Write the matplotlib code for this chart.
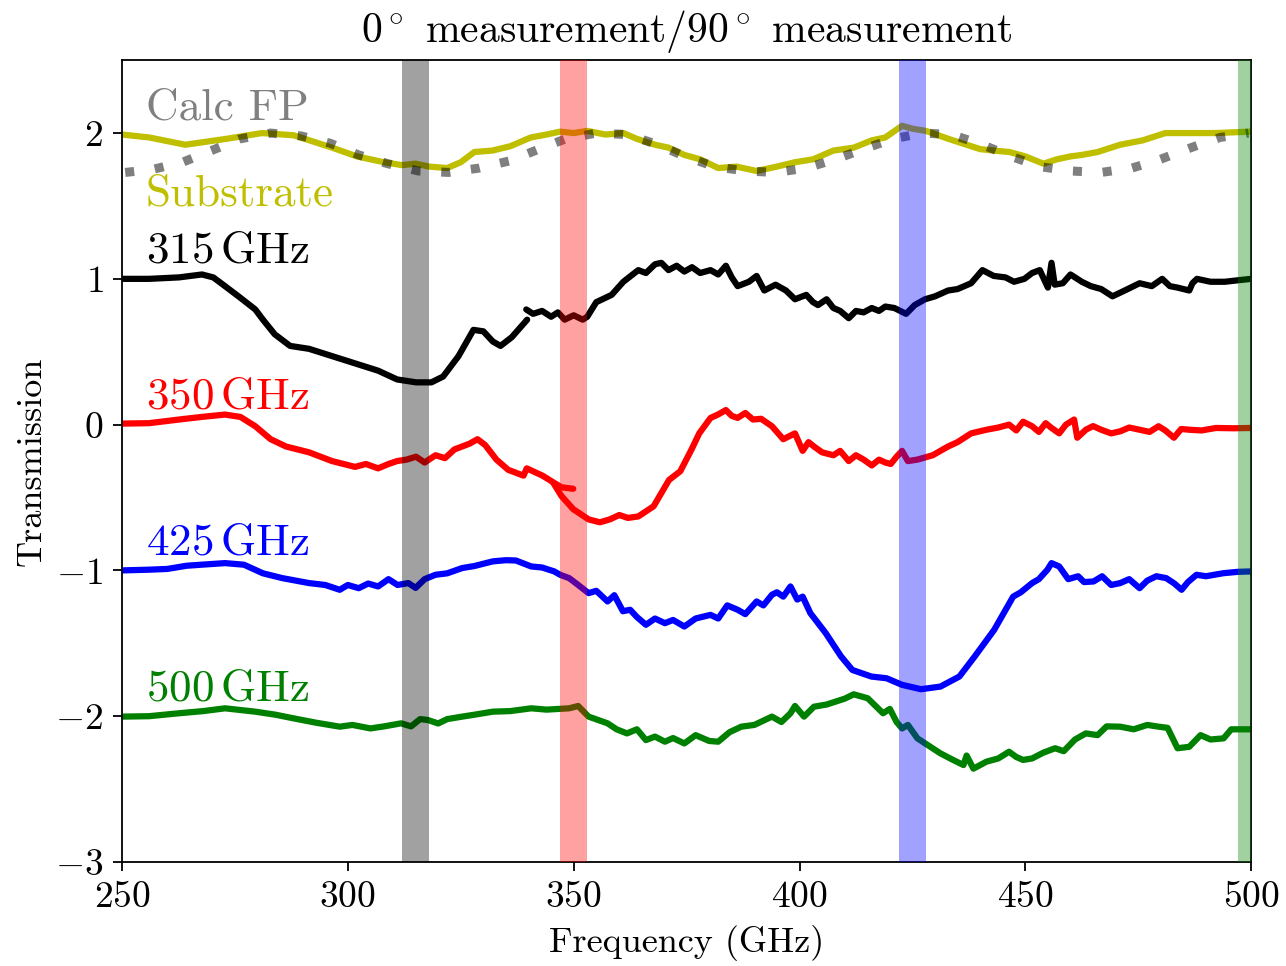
import matplotlib
matplotlib.use('Agg')
import matplotlib.pyplot as plt

plt.rcParams['font.family'] = 'serif'
plt.rcParams['font.serif'] = ['cmr10', 'DejaVu Serif']
plt.rcParams['mathtext.fontset'] = 'cm'
plt.rcParams['axes.formatter.use_mathtext'] = True
plt.rcParams['axes.unicode_minus'] = True

# substrate (yellow), offset +2
sub_f = [250, 256, 264, 273, 281, 288, 296.5, 302, 308, 312, 315, 318, 322, 325, 328, 332, 336, 340.5,
         344, 347, 350, 353, 357, 361, 364, 368, 371, 374.5, 378, 382, 386, 390.5, 395, 399, 403, 407.5,
         412, 416, 419, 422.7, 425, 428, 433, 436, 440, 443, 446.5, 450, 454, 457, 460, 462.5, 466, 471,
         476, 481, 486, 492, 500]
sub_t = [1.99, 1.97, 1.92, 1.96, 2.00, 1.985, 1.90, 1.84, 1.80, 1.78, 1.79, 1.77, 1.76, 1.80, 1.87, 1.88,
         1.91, 1.97, 1.99, 2.01, 2.0, 2.015, 1.99, 2.0, 1.96, 1.92, 1.90, 1.85, 1.82, 1.76, 1.77, 1.74, 1.77,
         1.80, 1.82, 1.88, 1.90, 1.95, 1.97, 2.05, 2.03, 2.015, 1.96, 1.93, 1.89, 1.88, 1.87, 1.84, 1.79,
         1.82, 1.84, 1.85, 1.87, 1.92, 1.95, 2.0, 2.0, 2.0, 2.01]

# calculated Fabry-Perot
fp_f = [250.7, 256.7, 263.4, 269.8, 276.1, 282.9, 289.7, 296.1, 302.4, 308.8, 315.6, 322.3, 329.1, 335.9,
        342.3, 348.2, 355, 361.8, 368.7, 374.6, 381.2, 388, 394.8, 401.5, 407.9, 414.2, 420.6, 427.4, 433.7,
        440.5, 446.9, 453.2, 460, 466.8, 473.6, 479.9, 486.7, 493.1, 499.4]
fp_t = [1.73, 1.75, 1.80, 1.88, 1.96, 2.0, 1.98, 1.93, 1.85, 1.79, 1.74, 1.73, 1.76, 1.81, 1.89, 1.96, 2.0,
        1.99, 1.92, 1.84, 1.77, 1.74, 1.73, 1.76, 1.82, 1.89, 1.96, 2.0, 1.99, 1.92, 1.84, 1.77, 1.74, 1.73,
        1.76, 1.82, 1.90, 1.97, 2.0]

# 315 GHz (black), offset +1, two scans
g315a_f = [250, 256, 262.6, 267.7, 270.2, 272.8, 276.2, 279.5, 281.2, 283.8, 287.2, 291.4, 296.5, 301.6,
           306.7, 310.9, 315.1, 318.5, 321.1, 324.5, 327.8, 330, 332.1, 333.8, 336.3, 339.7]
g315a_t = [1.00, 1.00, 1.01, 1.03, 1.01, 0.95, 0.87, 0.79, 0.72, 0.62, 0.54, 0.52, 0.47, 0.42, 0.37, 0.31,
           0.29, 0.29, 0.33, 0.47, 0.65, 0.64, 0.57, 0.54, 0.60, 0.72]
g315b_f = [339.5, 341, 343, 345, 346.5, 348, 350, 352, 353, 355, 358.4, 361, 364.3, 366, 368, 369.4, 371,
           372.8, 374.5, 376.2, 378, 380.3, 382, 383.7, 385, 386.3, 388.8, 390.5, 392.2, 394.7, 397, 399,
           401.5, 403, 404.1, 406, 407.5, 409, 410.9, 412.5, 414.2, 416, 417.6, 419, 421, 423.6, 425.5, 427.8,
           430, 432.9, 435, 438, 440.5, 443, 445.6, 447.5, 449.8, 451.5, 453.2, 455, 455.8, 456.5, 458.3, 460,
           462.5, 464.5, 466.8, 469.3, 472, 475.3, 478, 480.3, 482, 483.7, 486.3, 487, 488, 491, 494.2, 497,
           500]
g315b_t = [0.79, 0.76, 0.78, 0.74, 0.77, 0.72, 0.75, 0.72, 0.74, 0.84, 0.89, 0.98, 1.06, 1.04, 1.10, 1.11,
           1.06, 1.09, 1.05, 1.08, 1.04, 1.06, 1.03, 1.09, 1.01, 0.95, 0.98, 1.02, 0.92, 0.96, 0.92, 0.86, 0.89,
           0.84, 0.82, 0.86, 0.80, 0.78, 0.73, 0.78, 0.77, 0.80, 0.78, 0.81, 0.80, 0.76, 0.82, 0.86, 0.88, 0.92,
           0.93, 0.97, 1.06, 1.02, 1.01, 0.98, 1.0, 1.04, 1.06, 0.94, 1.11, 0.96, 0.97, 1.03, 0.98, 0.95, 0.93,
           0.88, 0.92, 0.97, 0.95, 1.0, 0.95, 0.94, 0.92, 0.97, 1.0, 0.98, 0.98, 0.99, 1.0]

# 350 GHz (red), offset 0, two scans
g350a_f = [250, 256, 262.6, 267.7, 272.8, 276.2, 279.5, 282.9, 286.3, 291.4, 296.5, 301.6, 304, 306.7, 309,
           310.9, 313, 315.1, 317, 319.4, 321.5, 323.6, 327, 328.7, 330.4, 332.9, 335.5, 338.9, 339.6, 341,
           343.1, 345.7, 347.3, 349.9]
g350a_t = [0.007, 0.01, 0.035, 0.053, 0.069, 0.053, -0.011, -0.10, -0.15, -0.19, -0.25, -0.29, -0.27, -0.30,
           -0.27, -0.25, -0.24, -0.22, -0.26, -0.21, -0.23, -0.17, -0.13, -0.10, -0.14, -0.24, -0.31, -0.35,
           -0.30, -0.32, -0.35, -0.40, -0.43, -0.44]
g350b_f = [345.5, 347.3, 349.9, 353.3, 355.8, 358, 360.1, 362, 364.3, 367.7, 371.1, 373.6, 376.1, 377.8,
           380.3, 382, 383.7, 385, 386.3, 388, 389.7, 391.5, 393.9, 395, 396.4, 399, 400.7, 402, 403.2, 405,
           407.5, 409, 410.9, 412.5, 414.2, 416, 417.6, 419, 420.2, 421.5, 422.7, 424, 426.1, 429.5, 432.9, 435,
           438, 441.4, 444, 446.4, 448, 449.5, 451.5, 453, 454.5, 455.8, 457.5, 459, 460.8, 461.5, 463.4, 465,
           466.8, 469, 471, 473, 475.3, 477.5, 479.5, 481, 482.9, 484.5, 486.3, 489, 492.2, 496, 500]
g350b_t = [-0.40, -0.49, -0.58, -0.65, -0.67, -0.65, -0.62, -0.64, -0.63, -0.56, -0.38, -0.32, -0.17, -0.06,
           0.046, 0.07, 0.10, 0.06, 0.046, 0.08, 0.035, 0.04, -0.011, -0.05, -0.10, -0.06, -0.18, -0.12, -0.15,
           -0.19, -0.21, -0.18, -0.25, -0.21, -0.24, -0.28, -0.24, -0.26, -0.27, -0.22, -0.18, -0.25, -0.24,
           -0.21, -0.15, -0.12, -0.06, -0.035, -0.02, 0.0, -0.04, 0.02, -0.011, -0.05, 0.01, -0.023, -0.06, 0.0,
           0.035, -0.09, -0.035, -0.01, -0.035, -0.06, -0.046, -0.02, -0.035, -0.05, -0.011, -0.04, -0.09,
           -0.03, -0.035, -0.04, -0.023, -0.025, -0.023]

# 425 GHz (blue), offset -1
g425_f = [250, 256, 260, 264.3, 268, 272.8, 277, 281.2, 285.5, 291.4, 295, 298.2, 300, 302.4, 304.5, 306.7,
          309, 311, 313.4, 315, 317, 319.4, 322, 325.3, 328, 332.1, 335, 337.2, 340.6, 343, 345.7, 347, 349,
          351, 353.3, 355, 357.5, 359, 360.9, 362.5, 364, 366, 368, 370.2, 372, 374.5, 377, 380.3, 382, 384,
          386.3, 388, 390.5, 392, 393.9, 395, 396.4, 398, 399.5, 400.7, 402.4, 405.8, 409.2, 411.7, 415.9,
          419.3, 422.7, 426.9, 431.2, 435.4, 438.8, 443.1, 447.3, 449, 451.5, 453, 454.9, 455.8, 457.5, 459.5,
          461.7, 463, 465.1, 467, 469, 471, 473, 475.3, 477, 479, 481.2, 483, 484.6, 486, 487.9, 490, 493.9,
          497, 500]
g425_t = [-1.00, -0.995, -0.99, -0.968, -0.96, -0.95, -0.961, -1.02, -1.053, -1.087, -1.10, -1.133, -1.10,
          -1.122, -1.09, -1.11, -1.06, -1.10, -1.087, -1.12, -1.06, -1.03, -1.02, -0.984, -0.97, -0.938, -0.93,
          -0.932, -0.973, -0.98, -1.007, -1.03, -1.053, -1.10, -1.156, -1.14, -1.213, -1.17, -1.28, -1.27,
          -1.32, -1.373, -1.33, -1.362, -1.34, -1.385, -1.33, -1.305, -1.33, -1.24, -1.27, -1.30, -1.213,
          -1.24, -1.167, -1.15, -1.18, -1.11, -1.20, -1.18, -1.293, -1.43, -1.59, -1.683, -1.728, -1.74,
          -1.785, -1.815, -1.797, -1.728, -1.59, -1.408, -1.18, -1.15, -1.087, -1.06, -0.995, -0.95, -0.973,
          -1.06, -1.04, -1.08, -1.076, -1.04, -1.10, -1.087, -1.06, -1.122, -1.07, -1.04, -1.053, -1.09,
          -1.133, -1.08, -1.03, -1.04, -1.019, -1.01, -1.007]

# 500 GHz (green), offset -2
g500_f = [250, 256, 262.6, 268, 272.8, 279.5, 284, 288, 293, 298.2, 301, 305, 308, 311.8, 314, 316, 317.7,
          320, 322, 325.3, 328, 332.1, 336, 340.6, 344, 349, 351, 353.3, 357.5, 359.5, 361.8, 364, 366, 368,
          370.2, 372, 374.5, 377, 380, 382, 384.5, 387.1, 390, 393.9, 396, 398, 399, 401, 403.2, 406, 408,
          410, 412, 415.1, 418.5, 420, 421.5, 422.7, 424, 426.1, 431.2, 434, 436.3, 437, 438.5, 441.4, 444,
          446.4, 448, 449.5, 451.5, 454, 456.6, 458.5, 461, 463.4, 466, 468, 471, 474, 477, 479.5, 481.5,
          483.7, 486.3, 488.8, 491, 493.9, 495.6, 500]
g500_t = [-2.003, -2.0, -1.98, -1.965, -1.946, -1.969, -1.99, -2.015, -2.045, -2.072, -2.06, -2.084, -2.07,
          -2.049, -2.07, -2.02, -2.026, -2.05, -2.02, -2.003, -1.99, -1.969, -1.965, -1.946, -1.955, -1.946,
          -1.93, -2.003, -2.049, -2.09, -2.118, -2.09, -2.164, -2.14, -2.175, -2.15, -2.187, -2.13, -2.17,
          -2.175, -2.11, -2.072, -2.06, -2.003, -2.04, -1.98, -1.93, -2.003, -1.935, -1.92, -1.90, -1.88,
          -1.85, -1.877, -1.98, -1.95, -2.04, -2.084, -2.06, -2.152, -2.255, -2.30, -2.335, -2.27, -2.36,
          -2.312, -2.29, -2.244, -2.28, -2.30, -2.29, -2.25, -2.22, -2.24, -2.16, -2.118, -2.13, -2.07,
          -2.072, -2.09, -2.06, -2.072, -2.08, -2.22, -2.21, -2.13, -2.16, -2.152, -2.09, -2.09]

band_centres = [315, 350, 425, 500]
band_colours = ['k', 'r', 'b', 'g']
band_width = 6

labels = ['Calc FP', 'Substrate', r'$\mathrm{315\,GHz}$', r'$\mathrm{350\,GHz}$',
          r'$\mathrm{425\,GHz}$', r'$\mathrm{500\,GHz}$']
label_y = [2.09, 1.50, 1.11, 0.11, -0.89, -1.89]
label_colours = ['grey', 'y', 'k', 'r', 'b', 'g']

fig = plt.figure(figsize=(12.86, 9.66), dpi=100)
ax = fig.add_axes([0.0949, 0.1077, 0.878, 0.830])

lw = 4.5
style = dict(lw=lw, solid_joinstyle='round', solid_capstyle='round')
ax.plot(sub_f, sub_t, color='y', **style)
ax.plot(fp_f, fp_t, color='k', alpha=0.5, lw=6.5, linestyle=(0, (1, 2.3)))
ax.plot(g315a_f, g315a_t, color='k', **style)
ax.plot(g315b_f, g315b_t, color='k', **style)
ax.plot(g350a_f, g350a_t, color='r', **style)
ax.plot(g350b_f, g350b_t, color='r', **style)
ax.plot(g425_f, g425_t, color='b', **style)
ax.plot(g500_f, g500_t, color='g', **style)

for c, col in zip(band_centres, band_colours):
    ax.axvspan(c - band_width / 2, c + band_width / 2, color=col, alpha=0.37, lw=0, zorder=3)

for txt, y, col in zip(labels, label_y, label_colours):
    ax.text(255.2, y, txt, color=col, fontsize=32.5, ha='left', va='baseline')

ax.set_xlim(250, 500)
ax.set_ylim(-3, 2.5)
ax.set_xticks([250, 300, 350, 400, 450, 500])
ax.set_yticks([-3, -2, -1, 0, 1, 2])
ax.tick_params(labelsize=27, length=6.5, width=1.3, pad=7)
for s in ax.spines.values():
    s.set_linewidth(1.3)
ax.set_xlabel('Frequency (GHz)', fontsize=26, labelpad=8)
ax.set_ylabel('Transmission', fontsize=26, labelpad=5)
ax.set_title(r'$0^\circ$ measurement/$90^\circ$ measurement', fontsize=30, pad=13)

fig.savefig('out.png', dpi=100)
